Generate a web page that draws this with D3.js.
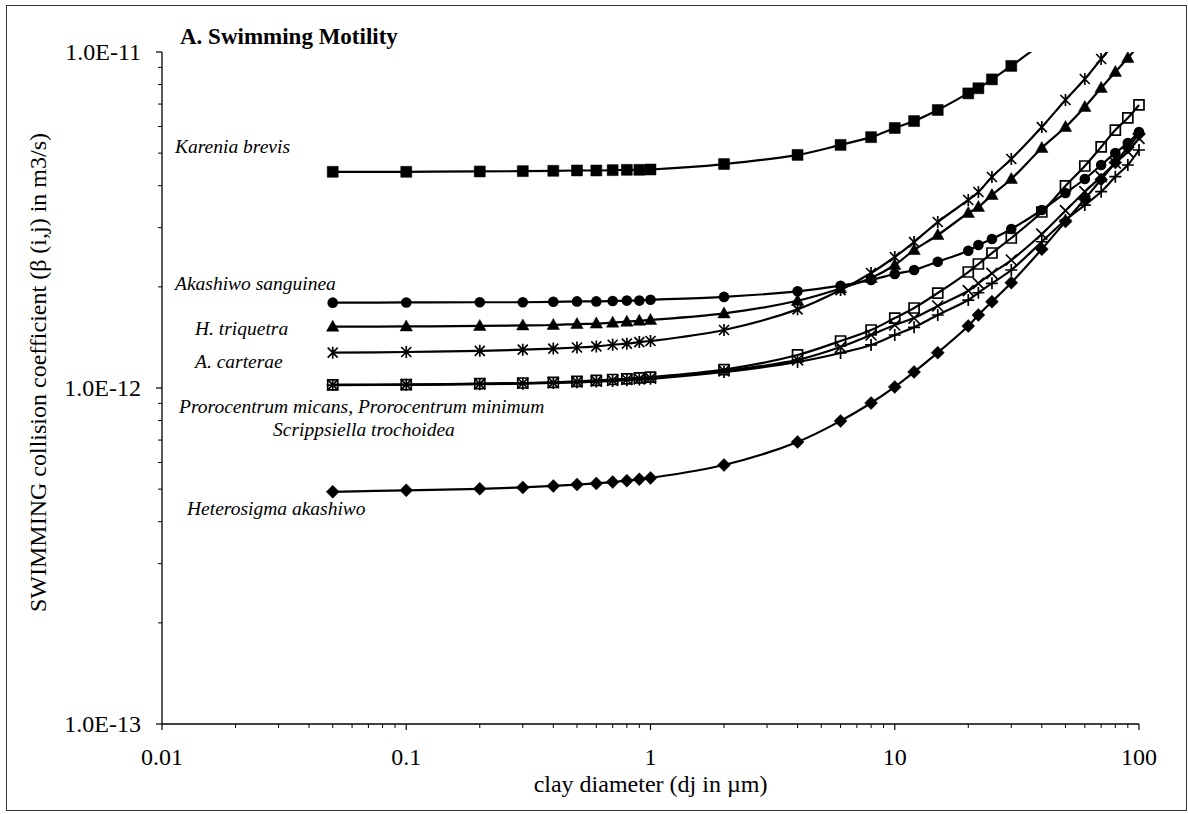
<!DOCTYPE html>
<html>
<head>
<meta charset="utf-8">
<script src="https://cdn.jsdelivr.net/npm/d3@7"></script>
<style>
  body { margin: 0; background: #fff; }
  svg { display: block; }
  text { font-family: "Liberation Serif", "Times New Roman", serif; fill: #000; }
</style>
</head>
<body>
<svg id="chart" width="1188" height="814"></svg>
<script>
// clay particle diameter dj (µm)
const clayDiameter = [0.05, 0.1, 0.2, 0.3, 0.4, 0.5, 0.6, 0.7, 0.8, 0.9, 1,
  2, 4, 6, 8, 10, 12, 15, 20, 22, 25, 30, 40, 50, 60, 70, 80, 90, 100];

// swimming collision coefficient β(i,j), m3/s
const kareniaBrevis = [4.40e-12, 4.40e-12, 4.41e-12, 4.42e-12, 4.43e-12, 4.44e-12, 4.44e-12, 4.45e-12, 4.46e-12, 4.46e-12, 4.47e-12,
  4.64e-12, 4.94e-12, 5.29e-12, 5.58e-12, 5.94e-12, 6.23e-12, 6.72e-12, 7.53e-12, 7.80e-12, 8.29e-12, 9.09e-12, 1.06e-11];
const akashiwoSanguinea = [1.795e-12, 1.797e-12, 1.80e-12, 1.80e-12, 1.805e-12, 1.81e-12, 1.81e-12, 1.815e-12, 1.82e-12, 1.82e-12, 1.83e-12,
  1.867e-12, 1.940e-12, 2.016e-12, 2.096e-12, 2.184e-12, 2.245e-12, 2.376e-12, 2.562e-12, 2.664e-12, 2.776e-12, 2.972e-12,
  3.386e-12, 3.805e-12, 4.188e-12, 4.610e-12, 5.006e-12, 5.361e-12, 5.779e-12];
const hTriquetra = [1.522e-12, 1.525e-12, 1.53e-12, 1.535e-12, 1.54e-12, 1.55e-12, 1.555e-12, 1.565e-12, 1.575e-12, 1.585e-12, 1.594e-12,
  1.667e-12, 1.818e-12, 1.979e-12, 2.126e-12, 2.323e-12, 2.574e-12, 2.853e-12, 3.317e-12, 3.457e-12, 3.753e-12, 4.188e-12,
  5.180e-12, 5.980e-12, 6.861e-12, 7.815e-12, 8.720e-12, 9.596e-12, 1.049e-11];
const aCarterae = [1.274e-12, 1.28e-12, 1.29e-12, 1.30e-12, 1.31e-12, 1.32e-12, 1.33e-12, 1.345e-12, 1.355e-12, 1.37e-12, 1.38e-12,
  1.488e-12, 1.714e-12, 1.957e-12, 2.199e-12, 2.454e-12, 2.719e-12, 3.119e-12, 3.627e-12, 3.831e-12, 4.246e-12, 4.803e-12,
  5.980e-12, 7.197e-12, 8.311e-12, 9.532e-12, 1.071e-11];
const prorocentrumMicans = [1.021e-12, 1.024e-12, 1.03e-12, 1.035e-12, 1.04e-12, 1.047e-12, 1.053e-12, 1.06e-12, 1.065e-12, 1.072e-12, 1.078e-12,
  1.134e-12, 1.254e-12, 1.380e-12, 1.488e-12, 1.615e-12, 1.730e-12, 1.917e-12, 2.214e-12, 2.339e-12, 2.522e-12, 2.795e-12,
  3.340e-12, 3.993e-12, 4.578e-12, 5.216e-12, 5.858e-12, 6.363e-12, 6.956e-12];
const prorocentrumMinimum = [1.021e-12, 1.023e-12, 1.028e-12, 1.033e-12, 1.038e-12, 1.043e-12, 1.048e-12, 1.054e-12, 1.06e-12, 1.065e-12, 1.07e-12,
  1.124e-12, 1.212e-12, 1.324e-12, 1.438e-12, 1.540e-12, 1.615e-12, 1.754e-12, 1.948e-12, 2.049e-12, 2.195e-12, 2.404e-12,
  2.872e-12, 3.370e-12, 3.839e-12, 4.254e-12, 4.673e-12, 5.050e-12, 5.535e-12];
const scrippsiellaTrochoidea = [1.02e-12, 1.022e-12, 1.026e-12, 1.03e-12, 1.035e-12, 1.04e-12, 1.045e-12, 1.05e-12, 1.055e-12, 1.06e-12, 1.065e-12,
  1.116e-12, 1.195e-12, 1.271e-12, 1.343e-12, 1.438e-12, 1.516e-12, 1.649e-12, 1.827e-12, 1.921e-12, 2.049e-12, 2.245e-12,
  2.724e-12, 3.162e-12, 3.503e-12, 3.839e-12, 4.254e-12, 4.610e-12, 5.109e-12];
const heterosigmaAkashiwo = [4.91e-13, 4.96e-13, 5.01e-13, 5.06e-13, 5.11e-13, 5.16e-13, 5.20e-13, 5.25e-13, 5.30e-13, 5.35e-13, 5.40e-13,
  5.90e-13, 6.91e-13, 7.98e-13, 9.02e-13, 1.007e-12, 1.116e-12, 1.274e-12, 1.529e-12, 1.649e-12, 1.807e-12, 2.058e-12,
  2.59e-12, 3.13e-12, 3.652e-12, 4.172e-12, 4.690e-12, 5.197e-12, 5.70e-12];

const xTickValues = [0.01, 0.1, 1, 10, 100];
const xTickLabels = ["0.01", "0.1", "1", "10", "100"];
const yTickValues = [1e-13, 1e-12, 1e-11];
const yTickLabels = ["1.0E-13", "1.0E-12", "1.0E-11"];

const speciesNames = ["Karenia brevis", "Akashiwo sanguinea", "H. triquetra", "A. carterae",
  "Prorocentrum micans, Prorocentrum minimum", "Scrippsiella trochoidea", "Heterosigma akashiwo"];

const chartTitle = "A. Swimming Motility";
const xTitle = "clay diameter (dj in µm)";
const yTitle = "SWIMMING collision coefficient (β (i,j) in m3/s)";

const series = [
  { values: kareniaBrevis, marker: "square" },
  { values: akashiwoSanguinea, marker: "circle" },
  { values: hTriquetra, marker: "triangle" },
  { values: aCarterae, marker: "asterisk" },
  { values: prorocentrumMicans, marker: "openSquare" },
  { values: prorocentrumMinimum, marker: "cross" },
  { values: scrippsiellaTrochoidea, marker: "plus" },
  { values: heterosigmaAkashiwo, marker: "diamond" }
];

const svg = d3.select("#chart");
const W = 1188, H = 814;
const plot = { left: 162, right: 1139, top: 52, bottom: 724 };

const x = d3.scaleLog().domain([0.01, 100]).range([plot.left, plot.right]);
const y = d3.scaleLog().domain([1e-13, 1e-11]).range([plot.bottom, plot.top]);

// outer frame
svg.append("rect")
  .attr("x", 6.5).attr("y", 5.5).attr("width", W - 8).attr("height", H - 9)
  .attr("fill", "none").attr("stroke", "#333").attr("stroke-width", 1);

svg.append("defs").append("clipPath").attr("id", "plotClip")
  .append("rect")
  .attr("x", plot.left).attr("y", plot.top)
  .attr("width", plot.right - plot.left + 10).attr("height", plot.bottom - plot.top);

// minor tick positions for the log axes
const xMinor = [];
for (let e = -2; e < 2; e++) for (let m = 2; m <= 9; m++) xMinor.push(m * Math.pow(10, e));
const yMinor = [];
for (let e = -13; e < -11; e++) for (let m = 2; m <= 9; m++) yMinor.push(m * Math.pow(10, e));

// x axis
const xAxisG = svg.append("g").attr("transform", `translate(0,${plot.bottom})`);
xAxisG.append("line").attr("x1", plot.left).attr("x2", plot.right)
  .attr("stroke", "#000").attr("stroke-width", 1.3);
xAxisG.selectAll(".minor").data(xMinor).join("line")
  .attr("x1", d => x(d)).attr("x2", d => x(d)).attr("y1", 0).attr("y2", 4)
  .attr("stroke", "#000").attr("stroke-width", 1);
xAxisG.selectAll(".major").data(xTickValues).join("line")
  .attr("x1", d => x(d)).attr("x2", d => x(d)).attr("y1", 0).attr("y2", 6)
  .attr("stroke", "#000").attr("stroke-width", 1.2);
xAxisG.selectAll("text").data(xTickValues).join("text")
  .attr("x", d => x(d)).attr("y", 41)
  .attr("text-anchor", "middle").attr("font-size", 24)
  .text((d, i) => xTickLabels[i]);

// y axis
const yAxisG = svg.append("g").attr("transform", `translate(${plot.left},0)`);
yAxisG.append("line").attr("y1", plot.top).attr("y2", plot.bottom)
  .attr("stroke", "#000").attr("stroke-width", 1.3);
yAxisG.selectAll(".minor").data(yMinor).join("line")
  .attr("y1", d => y(d)).attr("y2", d => y(d)).attr("x1", 0).attr("x2", -4)
  .attr("stroke", "#000").attr("stroke-width", 1);
yAxisG.selectAll(".major").data(yTickValues).join("line")
  .attr("y1", d => y(d)).attr("y2", d => y(d)).attr("x1", 0).attr("x2", -6)
  .attr("stroke", "#000").attr("stroke-width", 1.2);
yAxisG.selectAll("text").data(yTickValues).join("text")
  .attr("x", -21).attr("y", d => y(d) + 8)
  .attr("text-anchor", "end").attr("font-size", 24)
  .text((d, i) => yTickLabels[i]);

// axis titles
svg.append("text").attr("x", (plot.left + plot.right) / 2).attr("y", 792)
  .attr("text-anchor", "middle").attr("font-size", 24).text(xTitle);
svg.append("text")
  .attr("transform", "translate(46,133) rotate(-90)")
  .attr("text-anchor", "end").attr("font-size", 24).text(yTitle);

// chart title
svg.append("text").attr("x", 180).attr("y", 44)
  .attr("font-size", 23).attr("font-weight", "bold").text(chartTitle);

// marker path generators (centred on 0,0)
function markerPath(kind) {
  switch (kind) {
    case "square": return "M-5.5,-5.5H5.5V5.5H-5.5Z";
    case "openSquare": return "M-5,-5H5V5H-5Z";
    case "triangle": return "M0,-6.5L6.2,4.5H-6.2Z";
    case "diamond": return "M0,-6.5L6.5,0L0,6.5L-6.5,0Z";
    case "cross": return "M-5.5,-5.5L5.5,5.5M5.5,-5.5L-5.5,5.5";
    case "plus": return "M-6,0H6M0,-6V6";
    case "asterisk": return "M-5,-5L5,5M5,-5L-5,5M0,-6V6";
    default: return "";
  }
}
const filled = new Set(["square", "triangle", "diamond"]);

const line = d3.line()
  .x(d => x(d[0])).y(d => y(d[1]))
  .curve(d3.curveCatmullRom.alpha(0.5));

const dataG = svg.append("g").attr("clip-path", "url(#plotClip)");

series.forEach(s => {
  const pts = s.values.map((v, i) => [clayDiameter[i], v]);
  const g = dataG.append("g");
  g.append("path").datum(pts).attr("d", line)
    .attr("fill", "none").attr("stroke", "#000").attr("stroke-width", 2.2);
  const visible = pts.filter(p => p[1] <= 1e-11);
  if (s.marker === "circle") {
    g.selectAll("circle").data(visible).join("circle")
      .attr("cx", d => x(d[0])).attr("cy", d => y(d[1])).attr("r", 5.3)
      .attr("fill", "#000");
  } else {
    g.selectAll("path.m").data(visible).join("path").attr("class", "m")
      .attr("transform", d => `translate(${x(d[0])},${y(d[1])})`)
      .attr("d", markerPath(s.marker))
      .attr("fill", filled.has(s.marker) ? "#000" : "none")
      .attr("stroke", "#000")
      .attr("stroke-width", filled.has(s.marker) ? 0.5 : 1.7);
  }
});

// species labels
const labelLayout = [
  { x: 175, y: 153 },
  { x: 175, y: 290 },
  { x: 195, y: 335 },
  { x: 195, y: 368 },
  { x: 179, y: 413 },
  { x: 273, y: 436 },
  { x: 187, y: 515 }
];
svg.selectAll("text.species").data(speciesNames).join("text")
  .attr("class", "species")
  .attr("x", (d, i) => labelLayout[i].x).attr("y", (d, i) => labelLayout[i].y)
  .attr("font-size", 19.5).attr("font-style", "italic")
  .text(d => d);
</script>
</body>
</html>
